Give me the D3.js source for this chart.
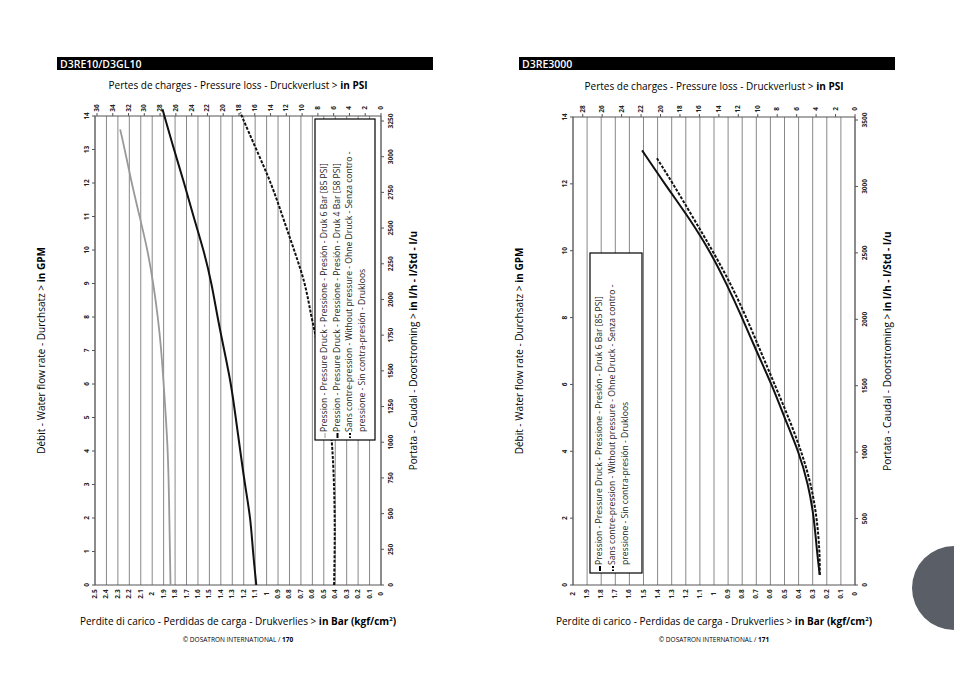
<!DOCTYPE html>
<html><head><meta charset="utf-8">
<script src="https://cdn.jsdelivr.net/npm/d3@7"></script>
<style>body{margin:0;background:#fff}svg{display:block;font-family:"Open Sans",sans-serif}</style>
</head><body>
<svg id="page" width="954" height="683"></svg>
<script>
// ---- data (GPM vs pressure loss in bar) ----
const gpmA = [0, 2, 4, 6, 7, 8, 9, 10, 11, 12, 13, 13.6];
const barA6 = [1.84, 1.85, 1.86, 1.90, 1.92, 1.95, 1.99, 2.04, 2.11, 2.18, 2.24, 2.28];
const gpmA4 = [0, 1, 2, 3, 4, 5, 6, 7, 8, 9, 10, 11, 12, 13, 14.2];
const barA4 = [1.09, 1.12, 1.14, 1.19, 1.23, 1.27, 1.31, 1.37, 1.43, 1.48, 1.55, 1.64, 1.72, 1.81, 1.91];
const gpmA0 = [0, 2, 4, 5, 6, 7.3, 8, 9, 10, 11, 12, 13, 14.1];
const barA0 = [0.41, 0.40, 0.42, 0.45, 0.50, 0.56, 0.61, 0.66, 0.76, 0.86, 0.96, 1.09, 1.23];

const gpmB = [0.3, 1, 2, 3, 4, 5, 6, 7, 8, 9, 10, 11, 12, 13];
const barB6 = [0.25, 0.27, 0.29, 0.33, 0.40, 0.50, 0.59, 0.70, 0.80, 0.91, 1.03, 1.18, 1.35, 1.51];
const gpmB0 = [0.3, 1, 2, 3, 4, 5, 6, 7, 8, 9, 10, 11, 12, 12.8];
const barB0 = [0.25, 0.25, 0.27, 0.31, 0.38, 0.47, 0.57, 0.67, 0.77, 0.88, 1.01, 1.15, 1.29, 1.41];

const lhTicksA = [0, 250, 500, 750, 1000, 1250, 1500, 1750, 2000, 2250, 2500, 2750, 3000, 3250];
const lhTicksB = [0, 500, 1000, 1500, 2000, 2500, 3000, 3500];

const legendA = [
  "Pression - Pressure Druck - Pressione - Presión - Druk 6 Bar [85 PSI]",
  "Pression - Pressure Druck - Pressione - Presión - Druk 4 Bar [58 PSI]",
  "Sans contre-pression - Without pressure - Ohne Druck - Senza contro -",
  "pressione - Sin  contra-presión - Drukloos"];
const legendB = [
  "Pression - Pressure Druck - Pressione - Presión - Druk 6 Bar [85 PSI]",
  "Sans contre-pression - Without pressure - Ohne Druck - Senza contro -",
  "pressione - Sin  contra-presión - Drukloos"];

const svg = d3.select("#page");

function zip(g, b) { return g.map((v, i) => ({gpm: v, bar: b[i]})); }

function drawChart(o) {
  const x = d3.scaleLinear().domain([o.barMax, 0]).range([o.left, o.right]);
  const y = d3.scaleLinear().domain([0, 14]).range([o.bottom, o.top]);
  const yl = d3.scaleLinear().domain([0, o.lhMax]).range([o.bottom, o.lhTop]);
  const g = svg.append("g");

  // header bar
  g.append("rect").attr("x", o.hx).attr("y", 57).attr("width", 376).attr("height", 13).attr("fill", "#000");
  g.append("text").attr("x", o.hx + 3).attr("y", 67.5).attr("fill", "#fff")
    .attr("font-size", 10.5).attr("font-weight", 600).text(o.title);

  // gridlines
  const barTicks = d3.range(0, Math.round(o.barMax * 10) + 1).map(i => i / 10);
  g.selectAll(".grid").data(barTicks).join("line")
    .attr("x1", d => x(d)).attr("x2", d => x(d)).attr("y1", o.top).attr("y2", o.bottom)
    .attr("stroke", "#888").attr("stroke-width", 1);
  g.append("rect").attr("x", o.left).attr("y", o.top).attr("width", o.right - o.left)
    .attr("height", o.bottom - o.top).attr("fill", "none").attr("stroke", "#555");

  const rot = (sel, fx, fy) => sel.attr("transform", d => `translate(${fx(d)},${fy(d)}) rotate(-90)`);
  const tick = {"font-size": 6.5, "font-weight": 700, "text-anchor": "middle", "fill": "#222"};
  const apply = (s) => { for (const k in tick) s.attr(k, tick[k]); return s; };

  // bottom bar labels
  apply(g.selectAll(".bl").data(barTicks).join("text")).call(rot, d => x(d) + 2, () => o.bottom + 9)
    .text(d => d3.format(".1~f")(d));
  // top psi labels
  const psi = d3.range(0, o.psiMax + 1, 2);
  g.selectAll(".pt").data(psi).join("line")
    .attr("x1", d => x(d / 14.5)).attr("x2", d => x(d / 14.5)).attr("y1", o.top - 3).attr("y2", o.top)
    .attr("stroke", "#555");
  apply(g.selectAll(".pl").data(psi).join("text")).call(rot, d => x(d / 14.5) + 2, () => o.top - 8).text(d => d);
  // left gpm labels
  const gt = d3.range(0, 15, o.gpmStep);
  g.selectAll(".gt").data(gt).join("line").attr("x1", o.left - 3).attr("x2", o.left)
    .attr("y1", d => y(d)).attr("y2", d => y(d)).attr("stroke", "#555");
  apply(g.selectAll(".gl").data(gt).join("text")).call(rot, () => o.left - 6, d => y(d)).text(d => d);
  // right l/h labels
  g.selectAll(".lt").data(o.lhTicks).join("line").attr("x1", o.right).attr("x2", o.right + 3)
    .attr("y1", d => yl(d)).attr("y2", d => yl(d)).attr("stroke", "#555");
  apply(g.selectAll(".ll").data(o.lhTicks).join("text")).call(rot, () => o.right + 12, d => yl(d)).text(d => d);

  // curves
  const line = d3.line().x(d => x(d.bar)).y(d => y(d.gpm)).curve(d3.curveBasis);
  o.series.forEach(s => {
    g.append("path").datum(s.data).attr("d", line).attr("fill", "none")
      .attr("stroke", s.color).attr("stroke-width", s.width).attr("stroke-dasharray", s.dash || null);
  });

  // legend
  g.append("rect").attr("x", o.lg.x).attr("y", o.lg.y).attr("width", o.lg.w).attr("height", o.lg.h)
    .attr("fill", "#fff").attr("stroke", "#000").attr("stroke-width", 1.2);
  o.lg.lines.forEach((t, i) => {
    const lx = o.lg.x + 12 + i * o.lg.step, ly = o.lg.y + o.lg.h - 8;
    g.append("text").attr("transform", `translate(${lx},${ly}) rotate(-90)`)
      .attr("font-size", 8.6).attr("fill", "#222").text(t);
    const sym = o.lg.sym[i];
    if (sym) g.append("line").attr("x1", lx - 2).attr("x2", lx - 2).attr("y1", ly + 1).attr("y2", ly + 6)
      .attr("stroke", sym.color).attr("stroke-width", sym.width).attr("stroke-dasharray", sym.dash || null);
  });

  // titles
  const tx = (o.left + o.right) / 2;
  g.append("text").attr("x", tx).attr("y", o.top - 27).attr("text-anchor", "middle").attr("font-size", 10)
    .html('Pertes de charges - Pressure loss - Druckverlust &gt; <tspan font-weight="700">in PSI</tspan>');
  g.append("text").attr("x", tx).attr("y", 625).attr("text-anchor", "middle").attr("font-size", 10)
    .html('Perdite di carico - Perdidas de carga - Drukverlies &gt; <tspan font-weight="700">in Bar (kgf/cm<tspan font-size="6" dy="-4">2</tspan><tspan dy="4">)</tspan></tspan>');
  g.append("text").attr("transform", `translate(${o.left - 50},${(o.top + o.bottom) / 2}) rotate(-90)`)
    .attr("text-anchor", "middle").attr("font-size", 10)
    .html('Débit - Water flow rate - Durchsatz &gt; <tspan font-weight="700">in GPM</tspan>');
  g.append("text").attr("transform", `translate(${o.right + 36},${(o.top + o.bottom) / 2}) rotate(-90)`)
    .attr("text-anchor", "middle").attr("font-size", 10)
    .html('Portata - Caudal - Doorstroming &gt; <tspan font-weight="700">in l/h - l/Std - l/u</tspan>');
  g.append("text").attr("x", tx).attr("y", 642).attr("text-anchor", "middle").attr("font-size", 6.5)
    .html(`© DOSATRON INTERNATIONAL / <tspan font-weight="700">${o.page}</tspan>`);
}

drawChart({
  title: "D3RE10/D3GL10", hx: 57, page: 170,
  left: 95, right: 381, top: 116, bottom: 585, barMax: 2.5, psiMax: 36, gpmStep: 1,
  lhMax: 3250, lhTop: 121, lhTicks: lhTicksA,
  series: [
    {data: zip(gpmA, barA6), color: "#999", width: 1.8},
    {data: zip(gpmA4, barA4), color: "#111", width: 2},
    {data: zip(gpmA0, barA0), color: "#111", width: 2, dash: "3,1.5"}],
  lg: {x: 315, y: 119, w: 60, h: 321, step: 12.5, lines: legendA,
    sym: [{color: "#999", width: 1}, {color: "#000", width: 2}, {color: "#000", width: 2, dash: "2,1.5"}, null]}
});

drawChart({
  title: "D3RE3000", hx: 519, page: 171,
  left: 573, right: 855, top: 117, bottom: 585, barMax: 2, psiMax: 28, gpmStep: 2,
  lhMax: 3500, lhTop: 120, lhTicks: lhTicksB,
  series: [
    {data: zip(gpmB, barB6), color: "#111", width: 2},
    {data: zip(gpmB0, barB0), color: "#111", width: 2, dash: "3,1.5"}],
  lg: {x: 590, y: 253, w: 52, h: 320, step: 13, lines: legendB,
    sym: [{color: "#000", width: 2}, {color: "#000", width: 2, dash: "2,1.5"}, null]}
});

svg.append("circle").attr("cx", 954).attr("cy", 588).attr("r", 42).attr("fill", "#5a5e66");
</script>
</body></html>
